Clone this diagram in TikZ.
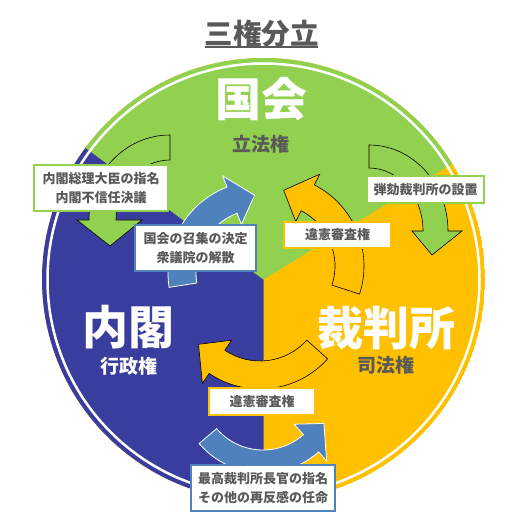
\documentclass[tikz,border=0pt]{standalone}
\usepackage{fontspec}
\setmainfont{Noto Sans CJK JP}
\usetikzlibrary{calc}
\definecolor{grn}{RGB}{146,208,80}
\definecolor{ind}{RGB}{57,61,158}
\definecolor{ylw}{RGB}{255,192,0}
\definecolor{stl}{RGB}{79,129,189}
\definecolor{txt}{RGB}{89,89,89}
\tikzset{
  greenarrow/.style={fill=grn, draw=black, line width=0.6pt},
  yellowarrow/.style={fill=ylw, draw=black, line width=0.6pt},
  bluearrow/.style={fill=stl, draw=white, line width=0.8pt},
  infobox/.style={fill=white, draw=#1, line width=1.3pt, inner sep=0pt,
    font=\bfseries\fontsize{13}{19}\selectfont, text=txt, align=center},
  biglabel/.style={inner sep=0pt, font=\bfseries\fontsize{46}{46}\selectfont},
  smalllabel/.style={inner sep=0pt, font=\bfseries\fontsize{19}{19}\selectfont},
}
\begin{document}
\begin{tikzpicture}[x=1pt,y=1pt]
\useasboundingbox (0,0) rectangle (522,522);
\fill[white] (0,0) rectangle (522,522);
\coordinate (O) at (263.5,242.5);
% sectors
\begin{scope}
  \clip (O) circle[radius=221.5];
  \fill[ylw] (O) circle[radius=221.5];
  \fill[ind] (O) -- ($(O)+(143.5:400)$) |- (263.5,-100) -- cycle;
  \fill[grn] (O) -- ($(O)+(143.5:400)$) -- (-60,620) -- (620,620) -- ($(O)+(31.5:400)$) -- cycle;
\end{scope}
\draw[white, line width=2.5pt] (O) circle[radius=216];
% green arrows (elliptical)
\path[greenarrow, shift={(170,302)}]
  (0,85) arc[start angle=90, end angle=180, x radius=81, y radius=85]
  -- (-93,0) -- (-60,-26) -- (-28,0) -- (-54,0)
  arc[start angle=180, end angle=90, x radius=54, y radius=60] -- cycle;
\path[greenarrow, shift={(369,291)}]
  (0,86) arc[start angle=90, end angle=0, x radius=79, y radius=86]
  -- (93,0) -- (63,-24) -- (43,0) -- (54,0)
  arc[start angle=0, end angle=90, x radius=54, y radius=63] -- cycle;
% blue arrows
\path[bluearrow, shift={(260,249)}]
  (189:92) arc[start angle=189, end angle=111, radius=92]
  -- (111:104) -- (94:78) -- (111:52) -- (111:64)
  arc[start angle=111, end angle=189, radius=64] -- cycle;
\path[bluearrow, shift={(263,133)}]
  (-139.5:84) arc[start angle=-139.5, end angle=-48.5, radius=84]
  -- (-48.5:96) -- (-29.5:70) -- (-48.5:47) -- (-48.5:61)
  arc[start angle=-48.5, end angle=-139.5, radius=61] -- cycle;
% yellow arrows
\path[yellowarrow, shift={(273,256)}]
  (-18:91) arc[start angle=-18, end angle=63, radius=91]
  -- (63:103) -- (82:76.5) -- (63:50) -- (63:62)
  arc[start angle=63, end angle=-18, radius=62] -- cycle;
\path[yellowarrow, shift={(260,224)}]
  (-42:91) arc[start angle=-42, end angle=-124, radius=91]
  -- (-124:103) -- (-143:77) -- (-124:51) -- (-124:63)
  arc[start angle=-124, end angle=-42, radius=63] -- cycle;
% boxes
\node[infobox=grn, minimum width=134, minimum height=46] (b1) at (101,334) {内閣総理大臣の指名\\内閣不信任決議};
\node[infobox=stl, minimum width=121, minimum height=46] (b2) at (195.5,274) {国会の召集の決定\\衆議院の解散};
\node[infobox=grn, minimum width=117, minimum height=27] (b3) at (425.5,332.5) {弾劾裁判所の設置};
\node[infobox=ylw, minimum width=107, minimum height=26] (b4) at (337.5,287) {違憲審査権};
\node[infobox=ylw, minimum width=106, minimum height=27] (b5) at (262,120.5) {違憲審査権};
\node[infobox=stl, minimum width=144, minimum height=46] (b6) at (263,34) {最高裁判所長官の指名\\その他の再反感の任命};
% labels
\node[biglabel, text=white] (kokkai) at (261,423) {国会};
\node[smalllabel, text=txt] (rippo) at (261,377.5) {立法権};
\node[biglabel, text=white] (naikaku) at (128,194.5) {内閣};
\node[smalllabel, text=white] (gyosei) at (128.5,156) {行政権};
\node[biglabel, text=white] (saiban) at (386,194) {裁判所};
\node[smalllabel, text=txt] (shiho) at (385.5,156.5) {司法権};
% title
\node[inner sep=0pt, text=txt, font=\bfseries\fontsize{28.5}{28.5}\selectfont] (title) at (261.5,488.5) {三権分立};
\coordinate (ulA) at (205,475);
\coordinate (ulB) at (318,475);
\draw[txt, line width=2pt] (ulA) -- (ulB);
\end{tikzpicture}
\end{document}
